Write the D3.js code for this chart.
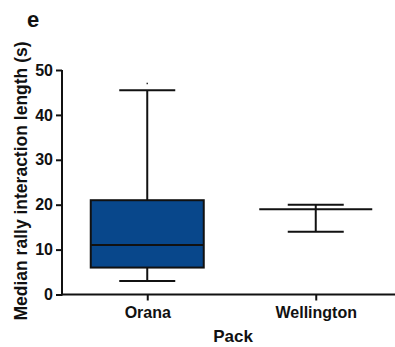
<!DOCTYPE html>
<html>
<head>
<meta charset="utf-8">
<script src="https://cdn.jsdelivr.net/npm/d3@7"></script>
<style>
  body { margin: 0; background: #fff; }
  svg text { font-family: "Liberation Sans", Arial, sans-serif; font-weight: bold; fill: #111; }
</style>
</head>
<body>
<div id="chart"></div>
<script>
// box plot values
const packs = ["Orana", "Wellington"];
const whiskerLow = [3, 14];
const q1 = [6, 19];
const median = [11, 19];
const q3 = [21, 19];
const whiskerHigh = [45.5, 20];
const outliers = [[47], []];
const yTicks = [0, 10, 20, 30, 40, 50];

const width = 395, height = 347;
const svg = d3.select("#chart").append("svg")
  .attr("width", width)
  .attr("height", height);

const x = d3.scalePoint()
  .domain(packs)
  .range([63, 400])
  .padding(0.5);

const y = d3.scaleLinear()
  .domain([0, 50])
  .range([294.5, 70]);

const boxW = 113, capW = 56;

const data = packs.map((p, i) => ({
  pack: p, lo: whiskerLow[i], q1: q1[i], med: median[i], q3: q3[i], hi: whiskerHigh[i], out: outliers[i]
}));

const g = svg.selectAll(".box")
  .data(data)
  .enter()
  .append("g")
  .attr("class", "box");

// whisker stems
g.append("line")
  .attr("x1", d => x(d.pack)).attr("x2", d => x(d.pack))
  .attr("y1", d => y(d.lo)).attr("y2", d => y(d.hi))
  .attr("stroke", "#111").attr("stroke-width", 2);

// caps
g.selectAll(".cap")
  .data(d => [d.lo, d.hi].map(v => ({ pack: d.pack, v })))
  .enter()
  .append("line")
  .attr("x1", d => x(d.pack) - capW / 2).attr("x2", d => x(d.pack) + capW / 2)
  .attr("y1", d => y(d.v)).attr("y2", d => y(d.v))
  .attr("stroke", "#111").attr("stroke-width", 2);

// boxes
g.append("rect")
  .attr("x", d => x(d.pack) - boxW / 2)
  .attr("width", boxW)
  .attr("y", d => y(d.q3))
  .attr("height", d => y(d.q1) - y(d.q3))
  .attr("fill", "#08478b")
  .attr("stroke", "#111").attr("stroke-width", 2);

// medians
g.append("line")
  .attr("x1", d => x(d.pack) - boxW / 2).attr("x2", d => x(d.pack) + boxW / 2)
  .attr("y1", d => y(d.med)).attr("y2", d => y(d.med))
  .attr("stroke", "#111").attr("stroke-width", 2);

// outlier dots
g.selectAll(".out")
  .data(d => d.out.map(v => ({ pack: d.pack, v })))
  .enter()
  .append("rect")
  .attr("x", d => x(d.pack) - 0.75)
  .attr("y", d => y(d.v) - 0.75)
  .attr("width", 1.5).attr("height", 1.5)
  .attr("fill", "#333");

// Y axis
const yAxis = svg.append("g")
  .attr("transform", "translate(62,0)")
  .call(d3.axisLeft(y).tickValues(yTicks).tickSize(6).tickPadding(3));
yAxis.select(".domain").attr("stroke", "#111").attr("stroke-width", 2)
  .attr("d", `M0,${y(50)}V${y(0) + 1}`);
yAxis.selectAll(".tick line").attr("stroke", "#111").attr("stroke-width", 2);
yAxis.selectAll(".tick text").style("font-size", "16px").attr("fill", "#111");

// X axis
const xAxis = svg.append("g")
  .attr("transform", `translate(0,${y(0)})`)
  .call(d3.axisBottom(x).tickSize(6).tickPadding(6));
xAxis.select(".domain").attr("stroke", "#111").attr("stroke-width", 2)
  .attr("d", `M61,0H400`);
xAxis.selectAll(".tick line").attr("stroke", "#111").attr("stroke-width", 2);
xAxis.selectAll(".tick text").style("font-size", "16px").attr("fill", "#111");

// titles
svg.append("text")
  .attr("x", 233).attr("y", 342)
  .attr("text-anchor", "middle")
  .style("font-size", "17px")
  .text("Pack");

svg.append("text")
  .attr("transform", "translate(27,181) rotate(-90)")
  .attr("text-anchor", "middle")
  .style("font-size", "17.5px")
  .text("Median rally interaction length (s)");

svg.append("text")
  .attr("x", 27).attr("y", 27)
  .style("font-size", "22px")
  .text("e");
</script>
</body>
</html>
